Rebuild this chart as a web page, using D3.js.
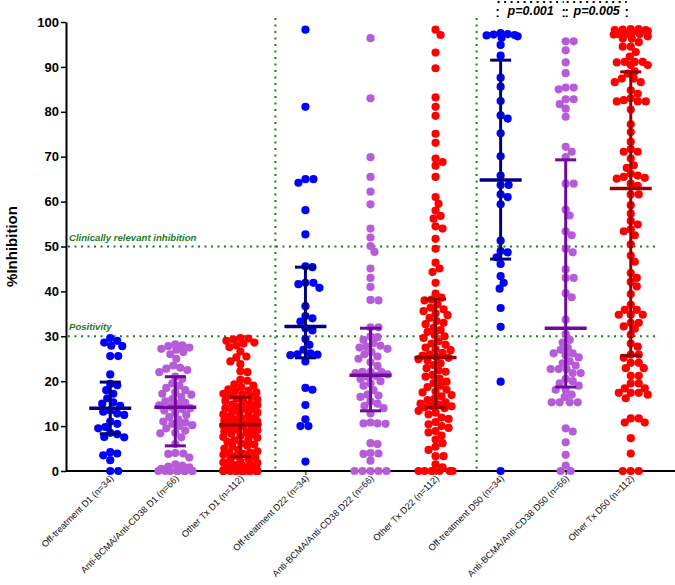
<!DOCTYPE html>
<html>
<head>
<meta charset="utf-8">
<style>
  body { margin: 0; background: #fff; }
  svg { display: block; font-family: Arial, "Liberation Sans", sans-serif; }
  .tick text { font-weight: bold; font-size: 13px; }
  .xlab { font-size: 9.2px; }
  .note { font-size: 9.6px; font-weight: bold; font-style: italic; fill: #1f7a1f; }
  .pval { font-size: 12.5px; font-weight: bold; font-style: italic; }
</style>
</head>
<body>
<svg width="675" height="585"></svg>
<script src="https://d3js.org/d3.v7.min.js"></script>
<script>
// categories (x axis)
let categories = [
  "Off-treatment D1 (n=34)", "Anti-BCMA/Anti-CD38 D1 (n=66)", "Other Tx D1 (n=112)",
  "Off-treatment D22 (n=34)", "Anti-BCMA/Anti-CD38 D22 (n=66)", "Other Tx D22 (n=112)",
  "Off-treatment D50 (n=34)", "Anti-BCMA/Anti-CD38 D50 (n=66)", "Other Tx D50 (n=112)"
];
let yTicks = [0, 10, 20, 30, 40, 50, 60, 70, 80, 90, 100];

// %inhibition per patient
let offD1 = [29.6, 29.0, 28.6, 27.9, 27.8, 25.6, 25.6, 21.5, 19.4, 19.1, 18.0, 17.2, 16.2, 15.3, 15.0, 14.5, 13.5, 13.2, 12.8, 12.5, 11.0, 10.5, 9.8, 9.5, 8.5, 8.2, 7.5, 7.6, 4.2, 3.9, 3.5, 2.4, 0, 0];
let antiD1 = [28.2, 28.0, 27.8, 27.5, 27.2, 27.0, 26.5, 26.0, 25.0, 23.5, 23.0, 22.8, 22.5, 22.0, 21.0, 20.5, 19.5, 19.0, 18.5, 18.0, 17.5, 17.2, 17.0, 16.5, 16.0, 15.5, 15.2, 15.0, 14.6, 14.3, 14.0, 13.8, 13.5, 13.0, 12.5, 12.0, 11.5, 11.0, 10.8, 10.5, 10.2, 10.0, 9.5, 9.0, 8.5, 8.4, 7.5, 6.0, 4.0, 3.9, 3.8, 3.0, 1.2, 0.8, 0, 0, 0, 0, 0, 0, 0, 0, 0, 0.5, 1.0, 1.5];
let otherD1 = [29.6, 29.5, 29.3, 29.0, 28.6, 28.4, 28.0, 27.6, 26.6, 25.5, 25.3, 24.4, 23.8, 22.2, 22.0, 20.3, 20.1, 19.3, 19.0, 18.7, 18.2, 17.9, 17.8, 17.5, 17.2, 17.0, 16.8, 16.6,
  16.1, 15.9, 15.6, 15.4, 15.0, 14.8, 14.7, 14.3, 14.0, 13.8, 13.7, 13.3, 13.0, 12.9, 12.6, 12.3, 12.2, 11.9, 11.7, 11.5, 11.3, 11.1, 11.0, 10.8, 10.7, 10.6, 10.5, 10.4,
  10.1, 9.9, 9.7, 9.5, 9.2, 9.1, 8.8, 8.5, 8.3, 8.1, 7.8, 7.6, 7.4, 7.0, 6.8, 6.5, 6.1, 5.9, 5.6, 5.4, 5.0, 4.7, 4.4, 4.1, 4.0, 3.8, 3.6, 3.4,
  3.0, 2.7, 2.5, 2.1, 1.9, 1.8, 1.5, 1.3, 1.1, 0.9, 0.7, 0.5, 0.3, 0.2, 0.1, 0, 0, 0, 0, 0, 0, 0, 0, 0, 0, 0, 0, 0];
let offD22 = [98.3, 81.1, 65.0, 65.0, 64.2, 58.1, 52.7, 45.6, 45.4, 41.9, 41.9, 41.6, 40.8, 36.7, 34.5, 34.0, 33.3, 31.8, 31.3, 29.4, 28.1, 27.0, 26.2, 26.0, 25.9, 25.8, 24.4, 18.5, 18.1, 14.7, 11.5, 10.0, 10.0, 2.1];
let antiD22 = [96.4, 83.0, 69.9, 65.5, 62.2, 59.4, 54.0, 52.0, 50.1, 48.8, 45.1, 43.0, 41.0, 38.1, 38.0,
  32.0, 32.0, 30.0, 29.8, 29.2, 28.5, 27.9, 27.7, 27.5, 27.2, 26.5, 26.0, 25.5, 25.0, 24.2, 23.4,
  22.1, 22.1, 22.0, 21.8, 21.5, 21.2, 21.0, 20.5, 20.0, 19.5, 19.0, 18.0,
  17.0, 16.8, 16.5, 15.5, 15.0, 14.5, 14.0, 12.8, 10.8, 10.6, 10.5, 10.6,
  6.2, 6.0, 3.9, 4.0, 3.8, 2.3, 0, 0, 0, 0, 0];
let otherD22 = [98.3, 97.1, 93.2, 89.7, 83.2, 81.1, 79.1, 75.1, 73.1, 69.6, 68.8, 68.0, 65.5, 61.0, 59.5, 58.0, 56.8, 56.2, 54.5, 54.0, 51.7, 49.5, 46.4, 45.1, 44.3, 41.9, 39.5, 38.6,
  38.2, 38.0, 37.1, 36.4, 36.0, 35.6, 35.1, 34.7, 34.1, 33.4, 33.0, 32.7, 31.9, 31.4, 31.0, 30.3, 30.0, 29.6, 28.9, 28.4, 28.1, 27.5, 27.1, 26.9, 26.3, 26.0, 25.7, 25.4,
  25.2, 24.9, 24.6, 24.0, 23.6, 22.9, 22.4, 22.1, 21.4, 21.0, 20.6, 19.9, 19.6, 19.0, 18.7, 18.1, 17.7, 17.5, 16.9, 16.6, 16.1, 15.8, 15.3, 15.0, 14.8, 14.5, 14.4, 14.2,
  14.0, 13.4, 13.0, 12.6, 11.9, 11.6, 10.9, 10.4, 10.0, 9.6, 8.9, 8.6, 7.9, 7.0, 6.2, 5.4, 4.7, 3.3, 3.3, 1.5, 0.8, 0, 0, 0, 0, 0, 0, 0];
let offD50 = [97.5, 97.3, 97.0, 97.2, 96.8, 96.5, 97.1, 94.9, 92.5, 87.6, 85.6, 82.4, 79.2, 78.5, 75.2, 70.1, 65.8, 63.7, 63.7, 61.6, 61.0, 59.4, 51.3, 49.0, 48.7, 47.6, 46.1, 43.4, 41.9, 40.6, 36.3, 32.1, 19.9, 0];
let antiD50 = [95.7, 95.7, 93.7, 91.0, 88.6, 85.4, 85.4, 85.0, 82.8, 82.8, 81.7, 80.7, 78.9, 72.2, 71.1, 69.9, 64.0, 64.0, 58.2, 56.9, 53.4, 52.5, 49.5, 48.7, 44.9, 43.0, 43.0, 39.6, 38.7, 33.7,
  30.5, 29.2, 28.6, 27.4, 27.0, 26.2, 26.2, 25.8, 25.3, 24.4, 24.0, 23.5, 22.7, 22.7, 22.7, 21.8, 21.8, 20.5, 20.0, 19.5, 19.0, 18.1, 18.1, 17.0, 16.5, 15.3, 15.3, 15.3, 15.3,
  9.5, 8.8, 6.4, 3.6, 1.2, 0, 0];
let otherD50 = [98.4, 98.4, 98.3, 98.2, 98.2, 98.0, 97.8, 97.3, 97.3, 97.2, 97.3, 96.8, 96.3, 96.3, 95.5, 94.5, 94.5, 93.3, 92.3, 91.1, 91.1, 91.0, 91.1, 90.4, 90.4, 89.0, 88.5,
  87.4, 87.4, 86.6, 86.6, 84.8, 84.0, 83.0, 82.6, 82.3, 82.3, 82.3, 80.5, 77.2, 75.5, 73.3, 71.7, 71.1, 71.1, 69.6, 68.1, 67.5, 66.2, 65.8, 65.5, 65.3, 65.1, 64.0, 63.5,
  61.6, 61.6, 59.2, 57.3, 55.7, 54.9, 53.8, 53.4, 52.5, 50.5, 48.0, 46.6, 44.1, 43.0, 42.1, 41.1, 39.4, 37.0, 35.9, 35.9, 34.8, 34.8, 34.8, 33.0, 33.0, 32.2, 31.7, 30.4,
  28.4, 27.7, 25.9, 25.9, 25.2, 24.1, 24.1, 22.9, 22.9, 21.2, 21.2, 19.5, 19.5, 18.4, 18.4, 17.4, 17.4, 17.4, 17.0, 16.2, 11.7, 11.7, 10.8, 10.8, 7.3, 3.9, 0, 0, 0];

// median and interquartile range drawn as bars
let medians = [14.0, 14.2, 10.3, 32.2, 21.3, 25.3, 64.8, 31.8, 62.9];
let q1s = [8.3, 5.6, 3.2, 25.2, 13.4, 14.1, 47.2, 18.7, 25.7];
let q3s = [19.8, 21.0, 16.4, 45.4, 31.8, 38.3, 91.5, 69.3, 88.9];

let groups = [offD1, antiD1, otherD1, offD22, antiD22, otherD22, offD50, antiD50, otherD50];

let dotColors = ["#0000ff", "#b65cd8", "#ff0000"];
let barColors = ["#00007f", "#6e0a9c", "#9c0000"];
let green = "#1e7d1e";

let svg = d3.select("svg");
let plotLeft = 66, plotRight = 675, plotTop = 22, plotBottom = 471;

let y = d3.scaleLinear().domain([0, 100]).range([plotBottom, plotTop]);
let x = d3.scalePoint().domain(categories).range([plotLeft, plotRight]).padding(0.68);

// y axis
let yAxis = svg.append("g")
  .attr("transform", `translate(${plotLeft},0)`)
  .call(d3.axisLeft(y).tickValues(yTicks).tickSize(5).tickSizeOuter(0));
yAxis.select(".domain").attr("stroke-width", 2);
yAxis.selectAll(".tick line").attr("stroke-width", 1.5);
yAxis.selectAll(".tick text").attr("x", -7);

// x axis
let xAxis = svg.append("g")
  .attr("transform", `translate(0,${plotBottom})`)
  .call(d3.axisBottom(x).tickSize(4).tickSizeOuter(0));
xAxis.select(".domain").attr("stroke-width", 2).attr("d", `M${plotLeft},0H${plotRight}`);
xAxis.selectAll(".tick text").remove();
xAxis.selectAll(".tick line").attr("stroke-width", 1);

categories.forEach(c => {
  svg.append("text")
    .attr("class", "xlab")
    .attr("text-anchor", "end")
    .attr("fill", "#111")
    .attr("transform", `translate(${x(c) + 4},${plotBottom + 8}) rotate(-45)`)
    .text(c);
});

svg.append("text")
  .attr("transform", `translate(17,${(plotTop + plotBottom) / 2}) rotate(-90)`)
  .attr("text-anchor", "middle")
  .style("font-weight", "bold")
  .style("font-size", "15px")
  .text("%Inhibition");

// reference lines
function dotted(x1, y1, x2, y2, col) {
  svg.append("line")
    .attr("x1", x1).attr("y1", y1).attr("x2", x2).attr("y2", y2)
    .attr("stroke", col).attr("stroke-width", 2)
    .attr("stroke-dasharray", "2,4.5");
}
dotted(plotLeft + 2, y(50), 657, y(50), green);
dotted(plotLeft + 2, y(30), 657, y(30), green);
let seps = [(x(categories[2]) + x(categories[3])) / 2 + 2.5, (x(categories[5]) + x(categories[6])) / 2 + 8.5];
seps.forEach(s => dotted(s, 18, s, plotBottom, green));

svg.append("text").attr("class", "note").attr("x", 69).attr("y", y(50) - 6)
  .text("Clinically relevant inhibition");
svg.append("text").attr("class", "note").attr("x", 69).attr("y", y(30) - 6)
  .text("Positivity");

// beeswarm layout, capped width so crowded rows overlap like the original
let r = 4.1;
function swarm(vals, cx) {
  let pts = vals.map(v => ({ v: v, py: y(v) })).sort((a, b) => a.py - b.py);
  let placed = [];
  let minD = 2 * r * 0.86;
  let maxHalf = 17;
  pts.forEach(p => {
    let best = 0, bestOv = Infinity;
    for (let k = 0; k <= maxHalf * 2; k++) {
      let dx = (k % 2 ? 1 : -1) * Math.ceil(k / 2);
      let ov = 0;
      placed.forEach(q => {
        let d = Math.hypot(q.dx - dx, q.py - p.py);
        if (d < minD) ov += minD - d;
      });
      if (ov < bestOv) { bestOv = ov; best = dx; }
      if (ov === 0) break;
    }
    p.dx = best;
    placed.push(p);
  });
  return pts.map(p => ({ v: p.v, cx: cx + p.dx, cy: p.py }));
}

groups.forEach((vals, i) => {
  let cx = x(categories[i]);
  let col = dotColors[i % 3];
  svg.append("g").selectAll("circle")
    .data(swarm(vals, cx))
    .join("circle")
    .attr("cx", d => d.cx)
    .attr("cy", d => d.cy)
    .attr("r", r)
    .attr("fill", col);

  let bc = barColors[i % 3];
  let g = svg.append("g").attr("stroke", bc);
  g.append("line").attr("x1", cx).attr("x2", cx)
    .attr("y1", y(q1s[i])).attr("y2", y(q3s[i])).attr("stroke-width", 3);
  [q1s[i], q3s[i]].forEach(q => {
    g.append("line").attr("x1", cx - 10.5).attr("x2", cx + 10.5)
      .attr("y1", y(q)).attr("y2", y(q)).attr("stroke-width", 3);
  });
  g.append("line").attr("x1", cx - 21).attr("x2", cx + 21)
    .attr("y1", y(medians[i])).attr("y2", y(medians[i])).attr("stroke-width", 3.5);
});

// significance brackets
let pairs = [[6, 7, "p=0.001"], [7, 8, "p=0.005"]];
pairs.forEach(([a, b, lab]) => {
  let xa = x(categories[a]) - 3, xb = x(categories[b]) - 2;
  if (a === 7) { xa = x(categories[a]) + 1; xb = x(categories[b]) - 4; }
  dotted(xa, 2, xb, 2, "#000");
  dotted(xa, 9, xa, 17, "#000");
  dotted(xb, 9, xb, 17, "#000");
  svg.append("text").attr("class", "pval")
    .attr("x", (xa + xb) / 2).attr("y", 15)
    .attr("text-anchor", "middle")
    .text(lab);
});
</script>
</body>
</html>
